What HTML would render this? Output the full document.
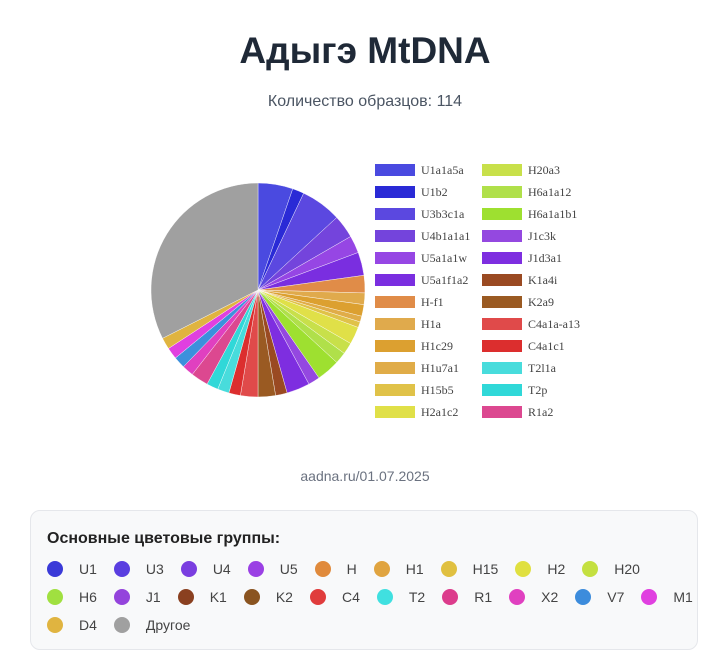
<!DOCTYPE html>
<html><head><meta charset="utf-8"><style>
body{margin:0;width:721px;height:657px;background:#fff;font-family:"Liberation Sans",sans-serif;position:relative;overflow:hidden}
#title{position:absolute;left:0;width:730px;top:30px;text-align:center;font-size:37px;font-weight:bold;color:#1f2937}
#sub{position:absolute;left:0;width:730px;top:93px;text-align:center;font-size:16px;color:#4b5563}
#foot{position:absolute;left:0;width:730px;top:468px;text-align:center;font-size:14px;color:#6b7280}
#card{position:absolute;left:30px;top:510px;width:668px;height:140px;box-sizing:border-box;border:1px solid #e5e7eb;border-radius:10px;background:#f8f9fa}
#card h3{margin:0;position:absolute;left:16px;top:19px;font-size:16px;color:#222}
.row{position:absolute;left:16px;display:flex;align-items:center;font-size:14px;color:#444}
.it{display:flex;align-items:center;margin-right:17px}
.dot{width:16px;height:16px;border-radius:50%;margin-right:16px}
</style></head><body>
<div id="title">Адыгэ MtDNA</div>
<div id="sub">Количество образцов: 114</div>
<svg id="chart" width="721" height="460" style="position:absolute;left:0;top:0"></svg>
<div id="foot">aadna.ru/01.07.2025</div>
<div id="card">
<h3>Основные цветовые группы:</h3>
<div class="row" id="r0" style="top:50px"></div>
<div class="row" id="r1" style="top:78px"></div>
<div class="row" id="r2" style="top:106px"></div>
</div>
<script>
const labels=["U1a1a5a","U1b2","U3b3c1a","U4b1a1a1","U5a1a1w","U5a1f1a2","H-f1","H1a","H1c29","H1u7a1","H15b5","H2a1c2","H20a3","H6a1a12","H6a1a1b1","J1c3k","J1d3a1","K1a4i","K2a9","C4a1a-a13","C4a1c1","T2l1a","T2p","R1a2","X2","V7","M1","D4","Другое"];
const counts=[6,2,7,4,3,4,3,2,2,1,1,3,2,2,4,2,4,2,3,3,2,2,2,3,2,2,2,2,37];
const colors=["#4a4ae0","#2a2ad6","#5b48e0","#7444dc","#9646e4","#7a2ee0","#e08c48","#e0aa4c","#dca030","#e0ac48","#e0c248","#e0e048","#c8e04a","#b0e04a","#9ee030","#9448e0","#7e2ee0","#9a4a22","#9a5a22","#e04a4a","#dc2e2e","#48dcdc","#30d8d8","#dc4890","#e040c0","#3c90dc","#e040e0","#e0b440","#a0a0a0"];
const legendCount=24;
const groups=["U1","U3","U4","U5","H","H1","H15","H2","H20","H6","J1","K1","K2","C4","T2","R1","X2","V7","M1","D4","Другое"];
const groupColors=["#3a3ad8","#5a3ee0","#7a3ee0","#9a40e4","#e08a3c","#e0a440","#e0c040","#e0e040","#c4e040","#a0e040","#9444dc","#8a4020","#8a5420","#e03c3c","#40e0e0","#dc3c8c","#e040c0","#3c8cdc","#e040e0","#e0b440","#a0a0a0"];
const NS="http://www.w3.org/2000/svg";
const svg=document.getElementById('chart');
const cx=258,cy=290,R=107;
const total=counts.reduce((a,b)=>a+b,0);
function ang(v){return v/total*2*Math.PI;}
let acc=0;
counts.forEach((c,i)=>{
 const a0=ang(acc),a1=ang(acc+c);acc+=c;
 const x0=cx+R*Math.sin(a0),y0=cy-R*Math.cos(a0),x1=cx+R*Math.sin(a1),y1=cy-R*Math.cos(a1);
 const p=document.createElementNS(NS,'path');
 p.setAttribute('d',`M${cx},${cy}L${x0},${y0}A${R},${R} 0 ${a1-a0>Math.PI?1:0} 1 ${x1},${y1}Z`);
 p.setAttribute('fill',colors[i]);p.setAttribute('stroke','#fff');p.setAttribute('stroke-width','0.4');
 
 
 svg.appendChild(p);
});
for(let i=0;i<legendCount;i++){
 const col=Math.floor(i/12),row=i%12;
 const x=375+col*107,y=164+row*22;
 const g=document.createElementNS(NS,'g');
 
 
 const r=document.createElementNS(NS,'rect');
 r.setAttribute('x',x);r.setAttribute('y',y);r.setAttribute('width',40);r.setAttribute('height',12);r.setAttribute('fill',colors[i]);
 const t=document.createElementNS(NS,'text');
 t.setAttribute('x',x+46);t.setAttribute('y',y+10);t.setAttribute('font-size','12');t.setAttribute('font-family','"Liberation Serif",serif');t.setAttribute('fill','#444');
 t.textContent=labels[i];
 g.appendChild(r);g.appendChild(t);svg.appendChild(g);
}
const rows=[[0,9],[9,19],[19,21]];
rows.forEach((rg,ri)=>{
 const row=document.getElementById('r'+ri);
 for(let i=rg[0];i<rg[1];i++){
  const it=document.createElement('div');it.className='it';
  
  
  it.innerHTML=`<span class="dot" style="background:${groupColors[i]}"></span><span>${groups[i]}</span>`;
  row.appendChild(it);
 }
});
</script>
</body></html>
